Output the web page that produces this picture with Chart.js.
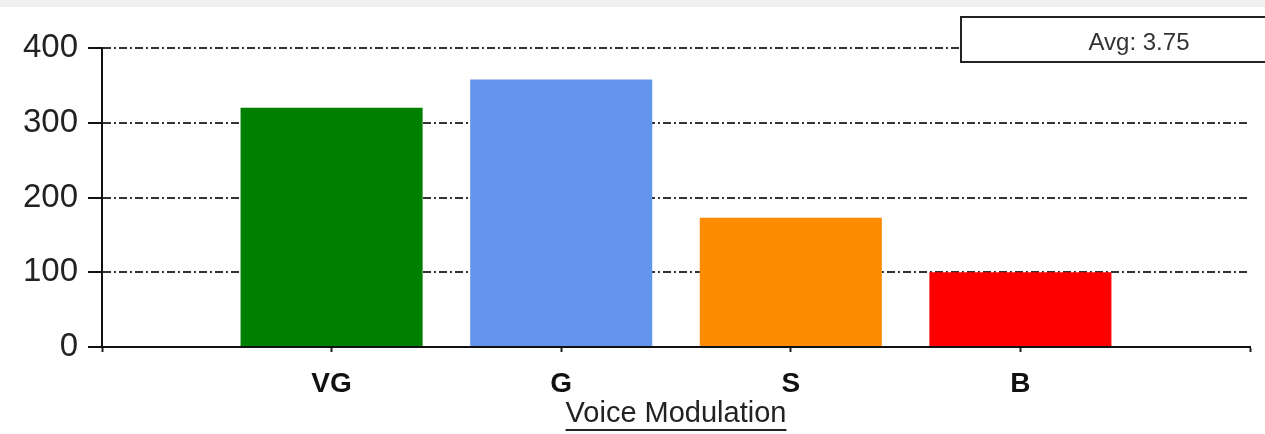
<!DOCTYPE html>
<html>
<head>
<meta charset="utf-8">
<script src="https://cdn.jsdelivr.net/npm/chart.js@4"></script>
<style>
  html, body { margin: 0; padding: 0; background: #fff; }
  #wrap { position: relative; width: 1265px; height: 434px; overflow: hidden; }
  #topband { position: absolute; left: 0; top: 0; width: 1265px; height: 7px; background: #efefef; }
  #avg {
    position: absolute; left: 960px; top: 16px; width: 360px; height: 43px;
    border: 2px solid #222; background: #fff;
    font: 24px "Liberation Sans", Arial, sans-serif; color: #333;
    line-height: 48px;
  }
  #avg span { position: absolute; left: 0; width: 354px; text-align: center; }
</style>
</head>
<body>
<div id="wrap">
  <canvas id="voiceChart" width="1265" height="434"></canvas>
  <div id="topband"></div>
  <div id="avg"><span>Avg: 3.75</span></div>
</div>
<script>
// categories (empty slots at both ends leave the gaps seen in the picture)
const categories = ["", "VG", "G", "S", "B", ""];
const counts = [null, 320, 358, 173, 100, null];
const barColors = ["#008000", "#008000", "#6495ED", "#FF8C00", "#FF0000", "#FF0000"];
const yTicks = [0, 100, 200, 300, 400];
const axisTitle = "Voice Modulation";

// underline under the x axis title
const underlineTitle = {
  id: "underlineTitle",
  afterDraw(chart) {
    const x = chart.scales.x;
    const t = x.options.title;
    const ctx = chart.ctx;
    ctx.save();
    ctx.font = Chart.helpers.toFont(t.font).string;
    const w = ctx.measureText(t.text).width;
    const cx = (x.left + x.right) / 2;
    const y = x.bottom - t.padding.bottom + 2;
    ctx.strokeStyle = "#222";
    ctx.lineWidth = 2;
    ctx.beginPath();
    ctx.moveTo(cx - w / 2, y);
    ctx.lineTo(cx + w / 2, y);
    ctx.stroke();
    ctx.restore();
  },
};

const ctx = document.getElementById("voiceChart").getContext("2d");
new Chart(ctx, {
  type: "bar",
  data: {
    labels: categories,
    datasets: [
      {
        data: counts,
        backgroundColor: barColors,
        borderWidth: 0,
        categoryPercentage: 0.793,
        barPercentage: 1,
      },
    ],
  },
  options: {
    responsive: false,
    animation: false,
    layout: { padding: { top: 48, right: 15, left: 0, bottom: 0 } },
    plugins: {
      legend: { display: false },
      tooltip: { enabled: false },
    },
    scales: {
      x: {
        offset: false,
        afterFit: (scale) => { scale.height = 87; },
        grid: {
          offset: false,
          drawOnChartArea: false,
          drawTicks: true,
          tickLength: 5,
          tickColor: "#222",
          tickWidth: 2,
        },
        border: { color: "#111", width: 2 },
        ticks: {
          autoSkip: false,
          maxRotation: 0,
          padding: 15,
          color: "#111",
          font: { family: "'Liberation Sans', Arial, sans-serif", size: 28, weight: "bold" },
        },
        title: {
          display: true,
          text: axisTitle,
          color: "#222",
          padding: { top: 0, bottom: 6 },
          font: { family: "'Liberation Sans', Arial, sans-serif", size: 29, lineHeight: 1 },
        },
      },
      y: {
        min: 0,
        max: 400,
        afterFit: (scale) => { scale.width = 102; },
        afterBuildTicks: (scale) => {
          scale.ticks = yTicks.map((v) => ({ value: v }));
        },
        grid: {
          color: "#333",
          lineWidth: 2,
          tickBorderDash: [],
          tickLength: 14,
          tickColor: "#111",
          tickWidth: 2,
        },
        border: { color: "#111", width: 2, dash: [8, 3, 2, 3] },
        ticks: {
          padding: 10,
          color: "#222",
          font: { family: "'Liberation Sans', Arial, sans-serif", size: 33 },
        },
      },
    },
  },
  plugins: [underlineTitle],
});
</script>
</body>
</html>
